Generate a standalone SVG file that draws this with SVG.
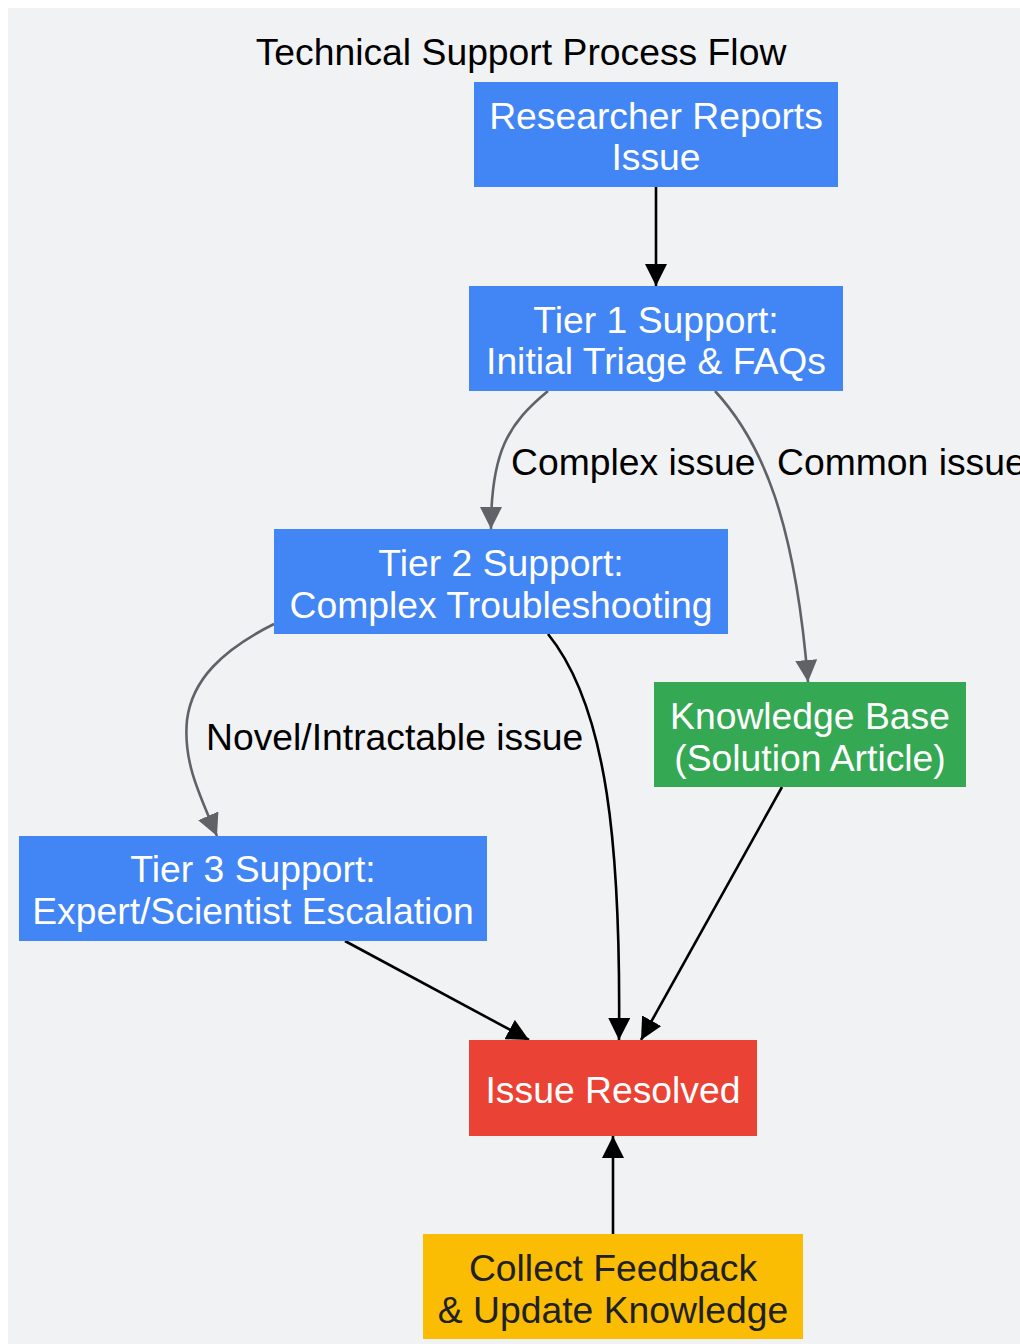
<svg xmlns="http://www.w3.org/2000/svg" width="1020" height="1344" viewBox="0 0 1020 1344">
<defs>
<style>
.nt{font-family:"Liberation Sans",Arial,sans-serif;font-size:37.3px;fill:#ffffff;text-anchor:middle}
.dk{fill:#202124}
.lb{font-family:"Liberation Sans",Arial,sans-serif;font-size:37.3px;fill:#000000}
.e{fill:none;stroke:#000000;stroke-width:2.6}
.g{fill:none;stroke:#5f6368;stroke-width:2.6}
</style>
<marker id="ab" markerUnits="userSpaceOnUse" markerWidth="22" markerHeight="22" refX="22" refY="11" orient="auto"><path d="M0,0 L22,11 L0,22 z" fill="#000000"/></marker>
<marker id="ag" markerUnits="userSpaceOnUse" markerWidth="22" markerHeight="22" refX="22" refY="11" orient="auto"><path d="M0,0 L22,11 L0,22 z" fill="#5f6368"/></marker>
</defs>
<rect x="8" y="8" width="1012" height="1336" fill="#f1f2f4"/>
<text class="lb" x="521" y="65" text-anchor="middle">Technical Support Process Flow</text>
<g id="connectors">
<path class="e" d="M656,187 L656,286" marker-end="url(#ab)"/>
<path class="g" d="M548,391 C508,424 491,452 491,529" marker-end="url(#ag)"/>
<path class="g" d="M715,391 C762,442 795,520 808,682" marker-end="url(#ag)"/>
<path class="g" d="M274,624 C222,650 192,680 187,720 C183,760 198,792 217,836" marker-end="url(#ag)"/>
<path class="e" d="M548,634 C608,708 621,850 619,1040" marker-end="url(#ab)"/>
<path class="e" d="M782,787 L641,1040" marker-end="url(#ab)"/>
<path class="e" d="M345,941 L529,1040" marker-end="url(#ab)"/>
<path class="e" d="M613,1234 L613,1136" marker-end="url(#ab)"/>
<text class="lb" x="511" y="475">Complex issue</text>
<text class="lb" x="777" y="475">Common issue</text>
<text class="lb" x="206" y="750">Novel/Intractable issue</text>
</g>
<g id="researcher">
<rect x="474" y="82" width="364" height="105" fill="#4285f4"/>
<text class="nt" x="656" y="129">Researcher Reports</text>
<text class="nt" x="656" y="170">Issue</text>
</g>
<g id="tier1">
<rect x="469" y="286" width="374" height="105" fill="#4285f4"/>
<text class="nt" x="656" y="333">Tier 1 Support:</text>
<text class="nt" x="656" y="374">Initial Triage &amp; FAQs</text>
</g>
<g id="tier2">
<rect x="274" y="529" width="454" height="105" fill="#4285f4"/>
<text class="nt" x="501" y="576">Tier 2 Support:</text>
<text class="nt" x="501" y="618">Complex Troubleshooting</text>
</g>
<g id="kb">
<rect x="654" y="682" width="312" height="105" fill="#34a853"/>
<text class="nt" x="810" y="729">Knowledge Base</text>
<text class="nt" x="810" y="771">(Solution Article)</text>
</g>
<g id="tier3">
<rect x="19" y="836" width="468" height="105" fill="#4285f4"/>
<text class="nt" x="253" y="882">Tier 3 Support:</text>
<text class="nt" x="253" y="924">Expert/Scientist Escalation</text>
</g>
<g id="resolved">
<rect x="469" y="1040" width="288" height="96" fill="#ea4335"/>
<text class="nt" x="613" y="1103">Issue Resolved</text>
</g>
<g id="feedback">
<rect x="423" y="1234" width="380" height="105" fill="#fbbc04"/>
<text class="nt dk" x="613" y="1281">Collect Feedback</text>
<text class="nt dk" x="613" y="1323">&amp; Update Knowledge</text>
</g>
</svg>
